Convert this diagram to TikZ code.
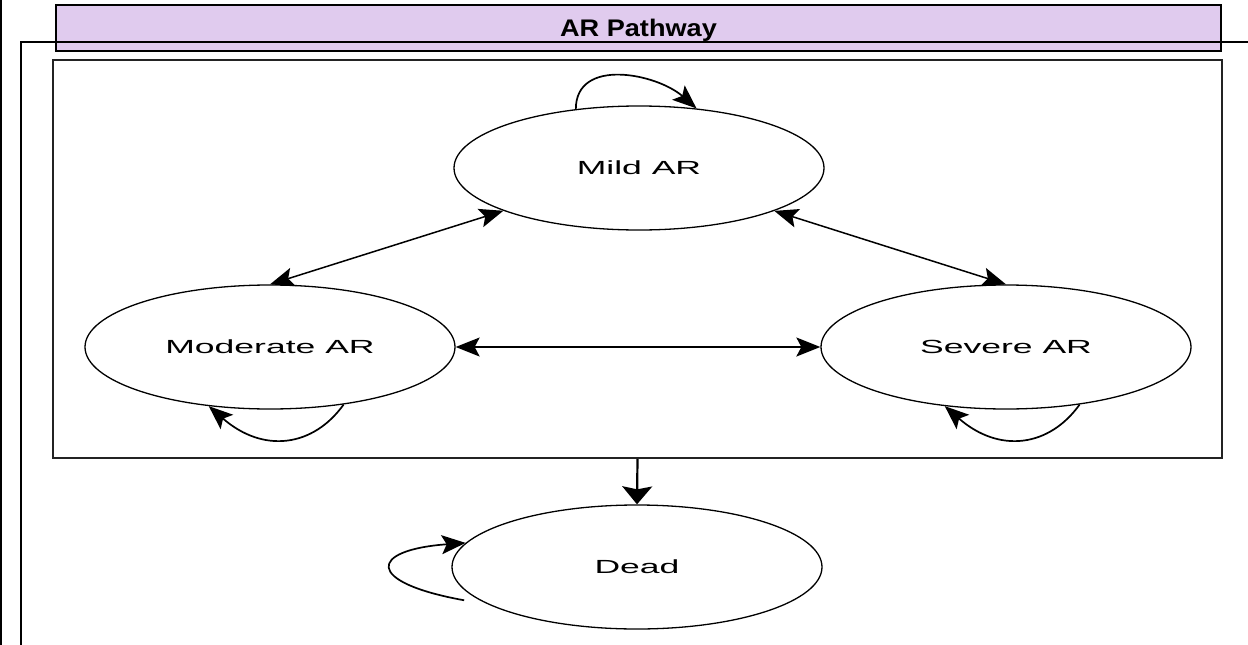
\documentclass[tikz,border=0pt]{standalone}
\usepackage{fontspec}
\setmainfont{Liberation Sans}
\usetikzlibrary{shapes.geometric,arrows.meta}
\definecolor{hdrfill}{RGB}{224,203,238}
\definecolor{boxline}{RGB}{35,35,35}
\begin{document}
\begin{tikzpicture}[x=1pt,y=-1pt,
  state/.style={ellipse,draw,line width=1.3pt,minimum width=370pt,minimum height=124pt,inner sep=0pt,font=\fontsize{19}{21}\selectfont},
  link/.style={line width=1.7pt,-{Stealth[length=24pt,width=19pt,inset=5pt]}},
  both/.style={line width=1.5pt,{Stealth[length=24pt,width=19pt,inset=5pt]}-{Stealth[length=24pt,width=19pt,inset=5pt]}},
  header/.style={draw,line width=2.6pt,fill=hdrfill,minimum width=1165pt,minimum height=46pt,inner sep=0pt,text depth=0pt,font=\bfseries\fontsize{24}{26}\selectfont},
  frame/.style={draw=boxline,line width=2pt,minimum width=1169pt,minimum height=398pt,inner sep=0pt},
  rule/.style={line width=2pt}]
\useasboundingbox (0,0) rectangle (1248,645);
\draw[rule] (1,0) -- (1,645);
\node[header] (hdr) at (638.5,28) {\scalebox{1.13}[1]{AR Pathway}};
\draw[rule] (21,645) -- (21,42) -- (1248,42);
\node[frame] (box) at (637.5,259) {};
\node[state] (mild) at (639,168) {\scalebox{1.87}[1]{Mild AR}};
\node[state] (moderate) at (270,347) {\scalebox{1.87}[1]{Moderate AR}};
\node[state] (severe) at (1006,347) {\scalebox{1.87}[1]{Severe AR}};
\node[state] (dead) at (637,567) {\scalebox{1.87}[1]{Dead}};
\draw[both] (mild) -- (moderate.north);
\draw[both] (mild) -- (severe.north);
\draw[both] (moderate) -- (severe);
\draw[line width=2.2pt,-{Stealth[length=18pt,width=30pt,inset=3pt]}] (box.south) -- (dead.north);
\draw[link] (mild.137) .. controls +(0,-52) and +(-40,-35) .. (mild.46);
\draw[link] (moderate.-38) .. controls +(-30,42) and +(55,48) .. (moderate.-136);
\draw[link] (severe.-38) .. controls +(-30,42) and +(55,48) .. (severe.-136);
\draw[link] ([shift={(-12,2)}]dead.-169) .. controls +(-100,-18) and +(-97,7) .. (dead.172);
\end{tikzpicture}
\end{document}
